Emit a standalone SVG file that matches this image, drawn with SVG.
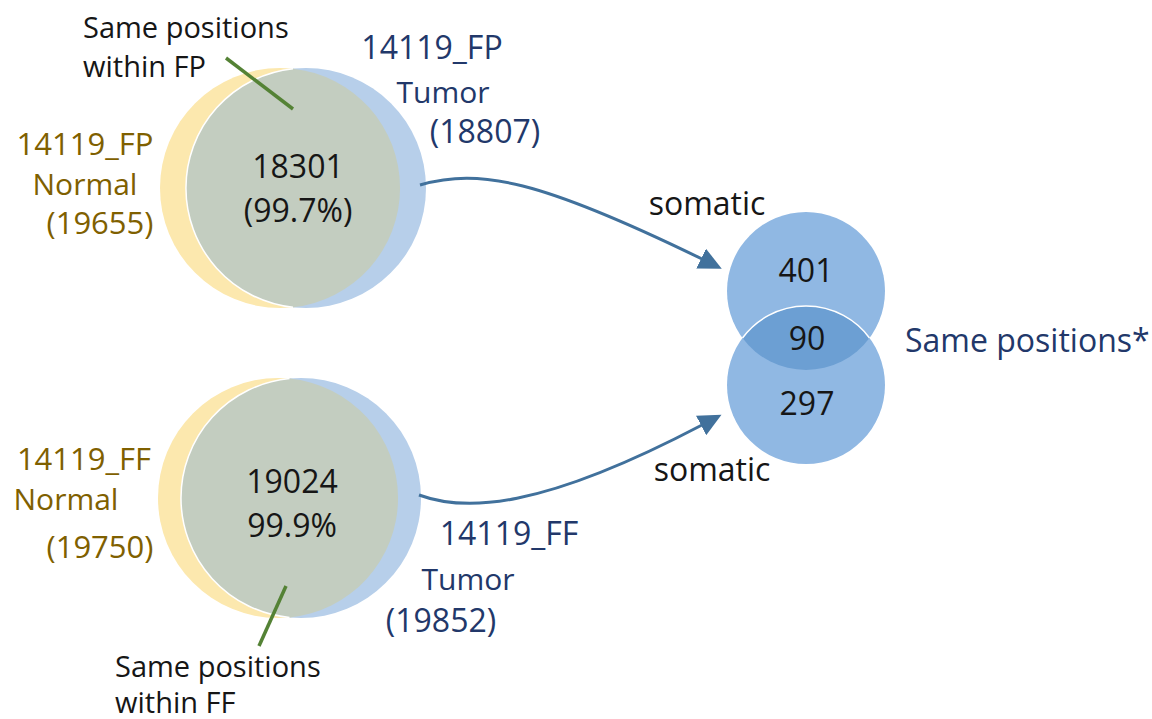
<svg xmlns="http://www.w3.org/2000/svg" width="1152" height="719" viewBox="0 0 1152 719">
  <style>
    text { font-family: "Open Sans", "Liberation Sans", sans-serif; }
    .blk { fill: #161616; }
    .gold { fill: #7f6000; }
    .navy { fill: #22386a; }
    .normal { fill: #fce8ae; }
    .tumor { fill: #b7cfea; }
    .lens { fill: #c3cdc0; }
    .edge { fill: none; stroke: #ffffff; stroke-width: 1.5; }
    .som { fill: #90b8e3; }
    .somov { fill: #6c9fd3; }
    .lead { stroke: #548235; stroke-width: 3.5; fill: none; }
    .conn { stroke: #41719c; stroke-width: 3; fill: none; }
  </style>
  <defs>
    <marker id="arr" markerUnits="userSpaceOnUse" markerWidth="24" markerHeight="22" refX="1" refY="11" orient="auto">
      <path d="M0,0 L23,11 L0,22 Z" fill="#41719c"/>
    </marker>
  </defs>

  <rect width="1152" height="719" fill="#ffffff"/>

  <g id="fp-venn">
    <circle class="normal" cx="280" cy="188" r="120"/>
    <circle class="tumor" cx="306" cy="188" r="120"/>
    <path class="lens" d="M293,68.7 A120,120 0 0,1 293,307.3 A120,120 0 0,1 293,68.7 Z"/>
    <path class="edge" d="M293,307.3 A120,120 0 0,1 293,68.7"/>
    <text class="blk" x="298" y="178" font-size="32" text-anchor="middle">18301</text>
    <text class="blk" x="298" y="222" font-size="32" text-anchor="middle">(99.7%)</text>
  </g>

  <g id="fp-normal-label" class="gold">
    <text x="85" y="155" font-size="31" text-anchor="middle">14119_FP</text>
    <text x="85" y="195" font-size="30" text-anchor="middle">Normal</text>
    <text x="100" y="234" font-size="31" text-anchor="middle">(19655)</text>
  </g>

  <g id="fp-tumor-label" class="navy">
    <text x="432" y="59" font-size="32" text-anchor="middle">14119_FP</text>
    <text x="443" y="103" font-size="30" text-anchor="middle">Tumor</text>
    <text x="485" y="143" font-size="32" text-anchor="middle">(18807)</text>
  </g>

  <g id="fp-same-label">
    <line class="lead" x1="226" y1="58" x2="293" y2="109"/>
    <text class="blk" x="83" y="38" font-size="29">Same positions</text>
    <text class="blk" x="83" y="77" font-size="29">within FP</text>
  </g>

  <g id="ff-venn">
    <circle class="normal" cx="278" cy="498" r="120"/>
    <circle class="tumor" cx="301" cy="498" r="120"/>
    <path class="lens" d="M289.5,378.55 A120,120 0 0,1 289.5,617.45 A120,120 0 0,1 289.5,378.55 Z"/>
    <path class="edge" d="M289.5,617.45 A120,120 0 0,1 289.5,378.55"/>
    <text class="blk" x="292" y="493" font-size="32" text-anchor="middle">19024</text>
    <text class="blk" x="292" y="537" font-size="32" text-anchor="middle">99.9%</text>
  </g>

  <g id="ff-normal-label" class="gold">
    <text x="84" y="470" font-size="31" text-anchor="middle">14119_FF</text>
    <text x="66" y="510" font-size="30" text-anchor="middle">Normal</text>
    <text x="100" y="558" font-size="31" text-anchor="middle">(19750)</text>
  </g>

  <g id="ff-tumor-label" class="navy">
    <text x="509" y="545" font-size="32" text-anchor="middle">14119_FF</text>
    <text x="468" y="590" font-size="30" text-anchor="middle">Tumor</text>
    <text x="441" y="632" font-size="32" text-anchor="middle">(19852)</text>
  </g>

  <g id="ff-same-label">
    <line class="lead" x1="286" y1="586" x2="259" y2="646"/>
    <text class="blk" x="115" y="677" font-size="29">Same positions</text>
    <text class="blk" x="115" y="713" font-size="29">within FF</text>
  </g>

  <g id="somatic-venn">
    <circle class="som" cx="806" cy="291" r="79"/>
    <circle class="som" cx="806" cy="385" r="79"/>
    <path class="somov" d="M742.5,338 A79,79 0 0,1 869.5,338 A79,79 0 0,1 742.5,338 Z"/>
    <path class="edge" d="M742.5,338 A79,79 0 0,1 869.5,338"/>
    <text class="blk" x="806" y="282" font-size="32" text-anchor="middle">401</text>
    <text class="blk" x="807" y="350" font-size="32" text-anchor="middle">90</text>
    <text class="blk" x="807" y="415" font-size="32" text-anchor="middle">297</text>
  </g>

  <g id="same-positions-label">
    <text class="navy" x="905" y="352" font-size="32">Same positions*</text>
  </g>

  <g id="connectors">
    <path class="conn" d="M420,185 C480,168 540,180 702,259" marker-end="url(#arr)"/>
    <path class="conn" d="M419,495 C465,512 540,510 702,425" marker-end="url(#arr)"/>
    <text class="blk" x="707" y="215" font-size="32" text-anchor="middle">somatic</text>
    <text class="blk" x="712" y="481" font-size="32" text-anchor="middle">somatic</text>
  </g>
</svg>
